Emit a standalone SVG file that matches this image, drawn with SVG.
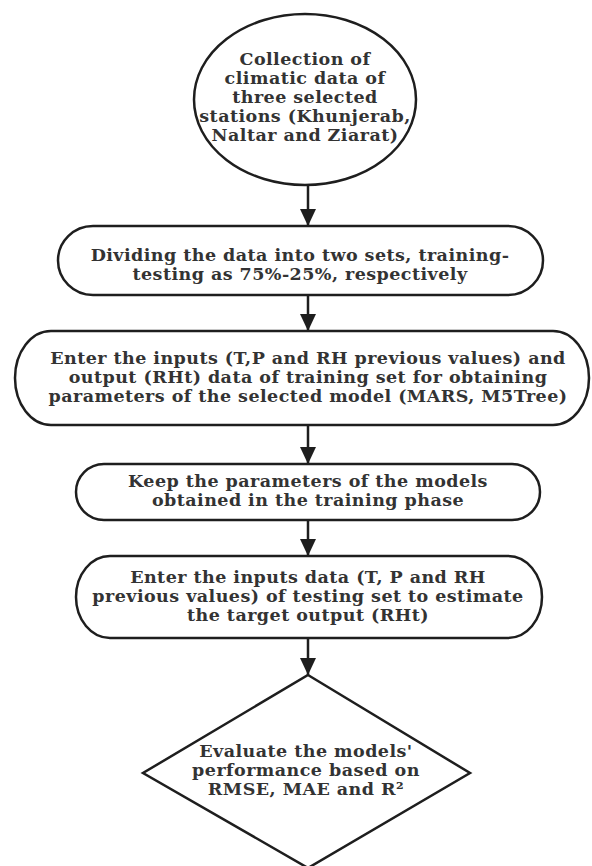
<svg xmlns="http://www.w3.org/2000/svg" width="592" height="866" viewBox="0 0 592 866">
<style>
.shape{fill:#fff;stroke:#1e1e1e;stroke-width:2.5}
.t{font-family:"DejaVu Serif","Liberation Serif",serif;font-weight:bold;font-size:17.5px;letter-spacing:0.45px;fill:#333;text-anchor:middle}
.c{stroke:#1e1e1e;stroke-width:2.5;fill:none;marker-end:url(#ah)}
</style>
<defs>
<marker id="ah" markerUnits="userSpaceOnUse" markerWidth="17" markerHeight="16" refX="17" refY="8" orient="auto">
<path d="M0,0 L17,8 L0,16 Z" fill="#1e1e1e"/>
</marker>
</defs>
<rect width="592" height="866" fill="#fff"/>
<g id="connectors">
<line class="c" x1="308" y1="185" x2="308" y2="226"/>
<line class="c" x1="308" y1="295" x2="308" y2="331"/>
<line class="c" x1="308" y1="425" x2="308" y2="464"/>
<line class="c" x1="308" y1="520" x2="308" y2="556"/>
<line class="c" x1="308" y1="638" x2="308" y2="675"/>
</g>
<g id="n1">
<ellipse class="shape" cx="305" cy="99.5" rx="111" ry="85.5"/>
<text class="t" x="305" y="65">Collection of</text>
<text class="t" x="305" y="84">climatic data of</text>
<text class="t" x="305" y="103">three selected</text>
<text class="t" x="305" y="122">stations (Khunjerab,</text>
<text class="t" x="305" y="141">Naltar and Ziarat)</text>
</g>
<g id="n2">
<path class="shape" d="M93,226 H508 A35 34.5 0 0 1 508,295 H93 A35 34.5 0 0 1 93,226 Z"/>
<text class="t" x="300" y="261">Dividing the data into two sets, training-</text>
<text class="t" x="300" y="280">testing as 75%-25%, respectively</text>
</g>
<g id="n3">
<path class="shape" d="M51,331 H553 A36 47 0 0 1 553,425 H51 A36 47 0 0 1 51,331 Z"/>
<text class="t" x="308" y="364">Enter the inputs (T,P and RH previous values) and</text>
<text class="t" x="308" y="383">output (RHt) data of training set for obtaining</text>
<text class="t" x="308" y="402">parameters of the selected model (MARS, M5Tree)</text>
</g>
<g id="n4">
<path class="shape" d="M104,464 H512 A28 28 0 0 1 512,520 H104 A28 28 0 0 1 104,464 Z"/>
<text class="t" x="308" y="487">Keep the parameters of the models</text>
<text class="t" x="308" y="506">obtained in the training phase</text>
</g>
<g id="n5">
<path class="shape" d="M110,556 H508 A34 41 0 0 1 508,638 H110 A34 41 0 0 1 110,556 Z"/>
<text class="t" x="308" y="583">Enter the inputs data (T, P and RH</text>
<text class="t" x="308" y="602">previous values) of testing set to estimate</text>
<text class="t" x="308" y="621">the target output (RHt)</text>
</g>
<g id="n6">
<path class="shape" d="M308,675 L470,773 L308,868 L143,773 Z"/>
<text class="t" x="306" y="757">Evaluate the models'</text>
<text class="t" x="306" y="776">performance based on</text>
<text class="t" x="306" y="795">RMSE, MAE and R²</text>
</g>
</svg>
